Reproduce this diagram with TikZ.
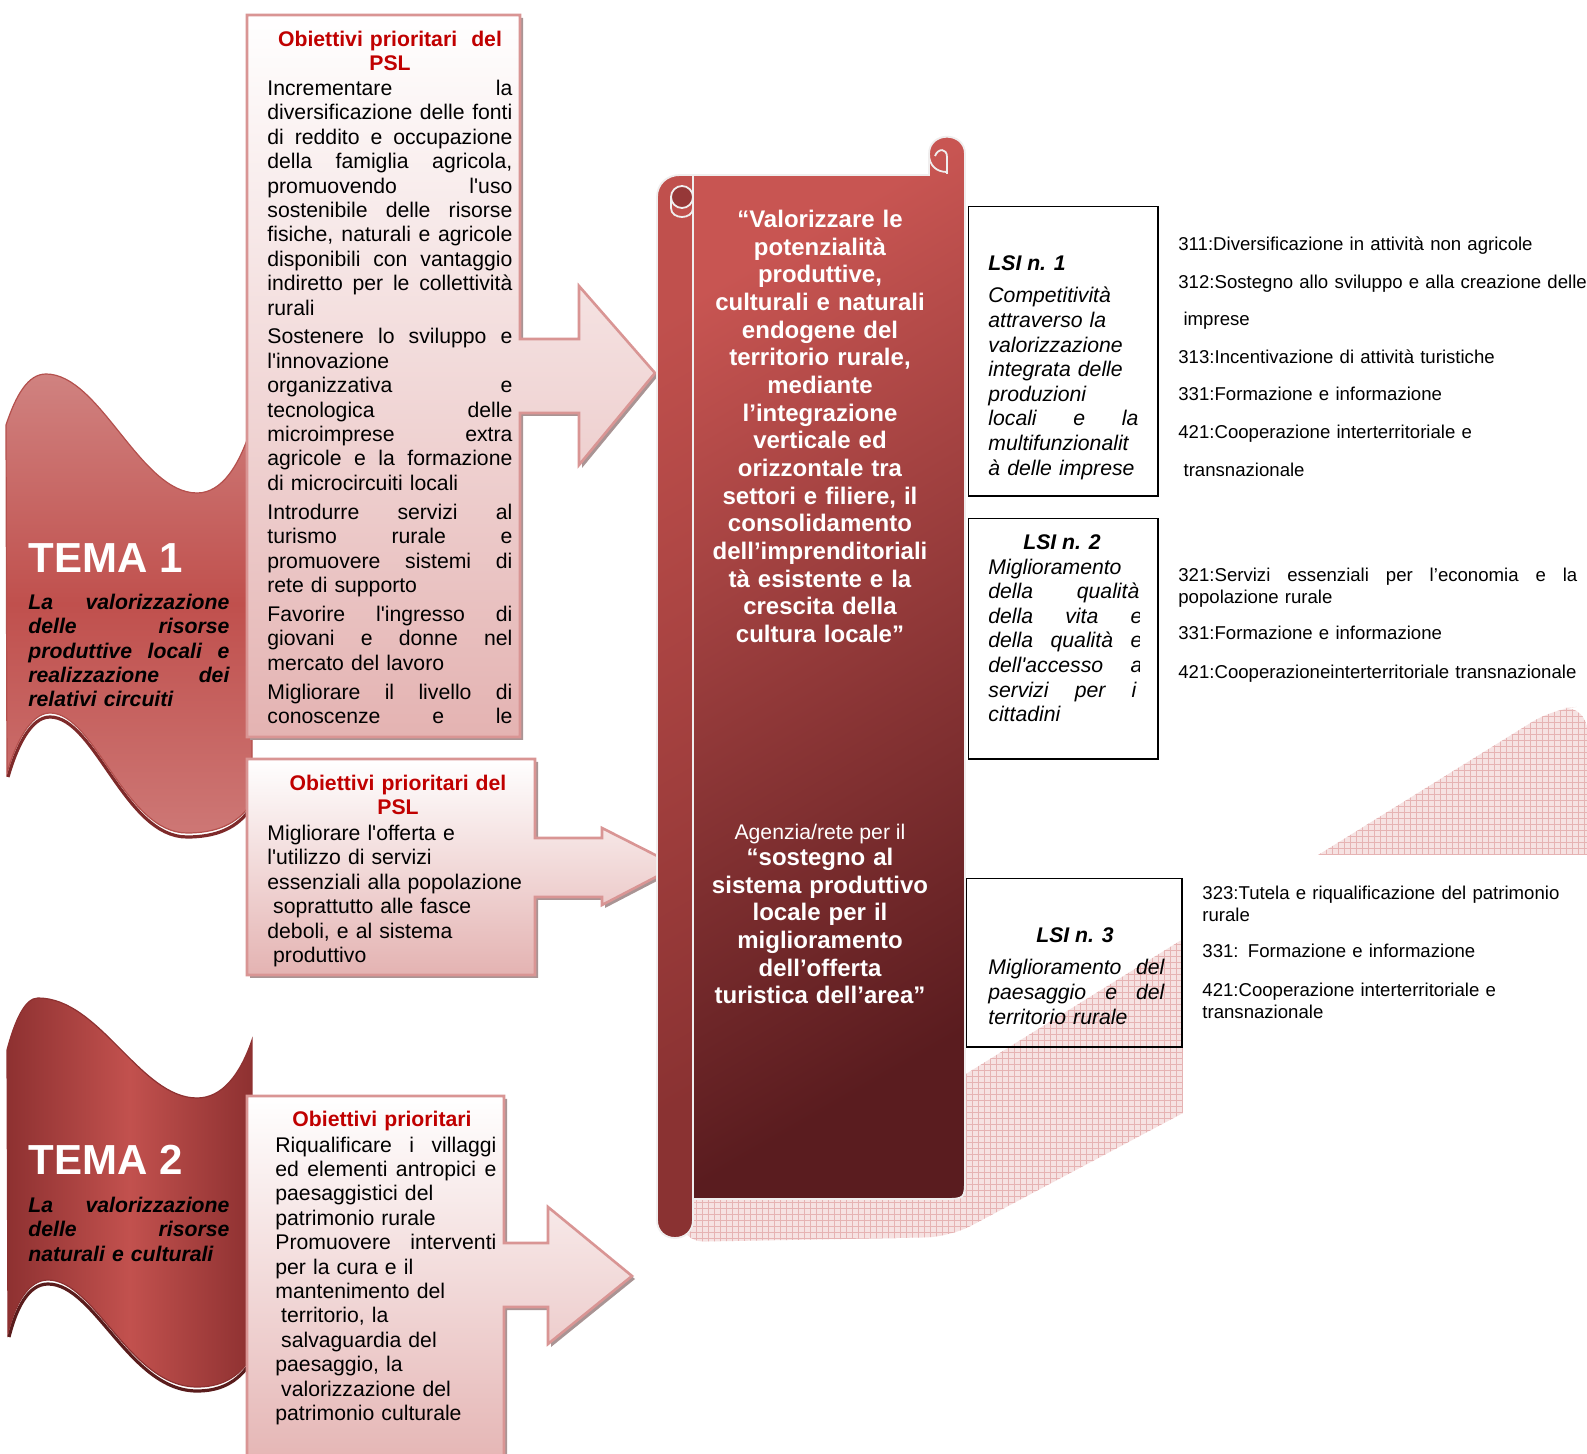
\documentclass[tikz,border=0pt]{standalone}
\usepackage{fontspec}
\setmainfont{Liberation Sans}[Ligatures=TeXOff]
\usetikzlibrary{patterns}
\definecolor{redtitle}{HTML}{C00000}
\definecolor{boxborder}{HTML}{D99594}
\definecolor{boxbottom}{HTML}{E4B3B2}
\definecolor{boxshadow}{HTML}{A99494}
\definecolor{bandbg}{HTML}{F6E2E2}
\definecolor{bandgrid}{HTML}{E6B3B3}
\definecolor{temaAtop}{HTML}{D08280}
\definecolor{temaAmid}{HTML}{C0504D}
\definecolor{temaAbot}{HTML}{CD7775}
\definecolor{temaAedge}{HTML}{B4504D}
\definecolor{temaAdark}{HTML}{7E2A2A}
\definecolor{temaBside}{HTML}{8E3131}
\definecolor{temaBmid}{HTML}{C2514E}
\definecolor{temaBdark}{HTML}{5A1C1C}
\definecolor{scrollA}{HTML}{C85552}
\definecolor{scrollB}{HTML}{5A1C1F}
\definecolor{poleA}{HTML}{C0504D}
\definecolor{poleB}{HTML}{8A3232}
\definecolor{scrollline}{HTML}{F0EEEE}
\definecolor{curlfill}{HTML}{963838}
\newcommand{\fsz}[2]{\fontsize{#1}{#2}\selectfont}
\newcommand{\jline}[2][0pt]{\leavevmode\hbox to \dimexpr\hsize-#1\relax{\spaceskip=\fontdimen2\font plus 1fil\relax #2}}
\def\boxApath{(247,15) -- (520,15) -- (520,339) -- (579,339) -- (579,286) -- (655,373) -- (579,465) -- (579,413) -- (520,413) -- (520,737) -- (247,737) -- cycle}
\def\boxBpath{(247,759) -- (535,759) -- (535,838) -- (602,838) -- (602,828) -- (677,866) -- (602,905) -- (602,897) -- (535,897) -- (535,975) -- (247,975) -- cycle}
\def\boxCpath{(247,1096) -- (504,1096) -- (504,1243) -- (548,1243) -- (548,1207) -- (632,1276) -- (548,1344) -- (548,1307) -- (504,1307) -- (504,1475) -- (247,1475) -- cycle}
\def\bandpath{(680,1242) -- (950,1237) -- (1587,898) -- (1587,706) -- (1553,709) -- (900,1115) -- (680,1115) -- cycle}
\hbadness=10000
\hfuzz=3pt
\begin{document}
\begin{tikzpicture}[x=0.5pt,y=-0.5pt,
  bodytext/.style={anchor=base west, inner sep=0pt, align=left, font=\fsz{10.6}{12.2}},
  titletext/.style={anchor=base, inner sep=0pt, align=center, text width=140pt, text=redtitle, font=\fsz{10.6}{12.2}\bfseries},
  temahead/.style={anchor=base west, inner sep=0pt, text=white, font=\fsz{21}{25}\bfseries},
  temasub/.style={anchor=base west, inner sep=0pt, align=left, text width=100.5pt, font=\fsz{10.6}{12.15}\bfseries\itshape},
  scrolltext/.style={anchor=base, inner sep=0pt, align=center, text width=150pt, text=white, font=\fsz{12}{13.83}\bfseries},
  lsititle/.style={inner sep=0pt, font=\fsz{10.6}{12.3}\bfseries\itshape},
  lsitext/.style={anchor=base west, inner sep=0pt, align=left, font=\fsz{10.6}{12.3}\itshape},
  meas/.style={anchor=base west, inner sep=0pt, align=left},
  boxshape/.style={top color=white, bottom color=boxbottom, draw=boxborder, line width=1.3pt, line join=miter},
  lsibox/.style={draw=black, line width=0.5pt},
  lsiedge/.style={draw=black, line width=1.1pt},
  scrolledge/.style={draw=scrollline, line width=0.9pt}
]
\useasboundingbox (0,0) rectangle (1587,1454);
\fill[white] (0,0) rectangle (1587,1454);

% decorative grid band
\path[fill=bandbg, rounded corners=12pt] \bandpath;
\path[pattern=grid, pattern color=bandgrid, rounded corners=12pt] \bandpath;
\fill[white] (1183,855) rectangle (1590,1460);

% TEMA 1 wave
\draw[temaAdark, line width=1.6pt] (8,777) .. controls (16,749) and (30,717) .. (50,717) .. controls (95,717) and (125,837) .. (187,837) .. controls (215,837) and (238,829) .. (252,806);
\shadedraw[top color=temaAtop, bottom color=temaAbot, middle color=temaAmid, draw=temaAedge, line width=0.6pt]
  (6,425) .. controls (16,395) and (28,374) .. (46,374)
  .. controls (100,374) and (140,493) .. (197,493)
  .. controls (222,493) and (240,465) .. (252,425)
  -- (252,802)
  .. controls (238,825) and (215,833) .. (187,833)
  .. controls (125,833) and (95,713) .. (50,713)
  .. controls (30,713) and (15,745) .. (7,773) -- cycle;

% TEMA 2 wave
\draw[temaBdark, line width=1.6pt] (9,1337) .. controls (16,1309) and (28,1284) .. (48,1284) .. controls (95,1284) and (130,1391) .. (197,1391) .. controls (218,1391) and (238,1384) .. (252,1360);
\shadedraw[left color=temaBside, right color=temaBside, middle color=temaBmid, draw=temaBside, line width=0.6pt]
  (7,1050) .. controls (15,1020) and (25,998) .. (38,998)
  .. controls (100,998) and (140,1098) .. (197,1098)
  .. controls (222,1098) and (240,1075) .. (252,1040)
  -- (252,1356)
  .. controls (238,1380) and (218,1387) .. (197,1387)
  .. controls (130,1387) and (95,1280) .. (48,1280)
  .. controls (28,1280) and (15,1305) .. (8,1333) -- cycle;

% objective boxes with arrows
\fill[boxshadow, shift={(3,3)}] \boxApath;
\fill[boxshadow, shift={(3,3)}] \boxBpath;
\fill[boxshadow, shift={(3,3)}] \boxCpath;
\shadedraw[boxshape] \boxApath;
\shadedraw[boxshape] \boxBpath;
\shadedraw[boxshape] \boxCpath;

% scroll
\shadedraw[top color=scrollA, bottom color=scrollB, shading angle=30, scrolledge]
  (693,175) -- (929,175) -- (929,154) .. controls (929,131) and (965,131) .. (965,154)
  -- (965,1177) .. controls (965,1199) .. (943,1199) -- (693,1199) -- cycle;
\draw[scrolledge] (947,174) -- (947,157) .. controls (947,148) and (938,148) .. (935,156);
\draw[scrolledge] (929,154) .. controls (929,166) and (937,172) .. (947,172);
\shadedraw[top color=poleA, bottom color=poleB, shading angle=30, scrolledge]
  (657,1220) -- (657,197) .. controls (657,184) and (667,175) .. (680,175) -- (693,175)
  -- (693,1220) .. controls (693,1244) and (657,1244) .. (657,1220) -- cycle;
\draw[scrolledge, line width=1.3pt] (693,195) -- (693,1222);
\filldraw[fill=curlfill, scrolledge] (682,197) circle (11);
\draw[scrolledge] (671,197) -- (671,208) .. controls (671,220) and (693,220) .. (693,208);

% LSI boxes
\draw[lsibox] (968,207) rectangle (1158,496);
\draw[lsiedge] (1158,207) -- (1158,496) -- (968,496);
\draw[lsibox] (968,519) rectangle (1158,759);
\draw[lsiedge] (1158,519) -- (1158,759) -- (968,759);
\draw[lsibox] (966,879) rectangle (1182,1047);
\draw[lsiedge] (1182,879) -- (1182,1047) -- (966,1047);

\begin{scope}[shift={(0,2.5)}]
% box 1 texts
\node[titletext] (t1) at (390,44) {Obiettivi prioritari\ \ del\\PSL};
\node[bodytext, text width=122.5pt] (b1) at (267,93) {%
\jline{Incrementare la}\\
\jline{diversificazione delle fonti}\\
\jline{di reddito e occupazione}\\
\jline{della famiglia agricola,}\\
\jline{promuovendo l'uso}\\
\jline{sostenibile delle risorse}\\
\jline{fisiche, naturali e agricole}\\
\jline{disponibili con vantaggio}\\
\jline{indiretto per le collettività}\\
rurali\\[2.25pt]
\jline{Sostenere lo sviluppo e}\\
l'innovazione\\
\jline{organizzativa e}\\
\jline{tecnologica delle}\\
\jline{microimprese extra}\\
\jline{agricole e la formazione}\\
di microcircuiti locali\\[2.25pt]
\jline{Introdurre servizi al}\\
\jline{turismo rurale e}\\
\jline{promuovere sistemi di}\\
rete di supporto\\[2.25pt]
\jline{Favorire l'ingresso di}\\
\jline{giovani e donne nel}\\
mercato del lavoro\\[2.25pt]
\jline{Migliorare il livello di}\\
\jline{conoscenze e le}};

% box 2 texts
\node[titletext] (t2) at (398,788) {Obiettivi prioritari del\\PSL};
\node[bodytext, text width=132pt] (b2) at (267,838) {%
Migliorare l'offerta e\\
l'utilizzo di servizi\\
essenziali alla popolazione\\
\hspace*{2.9pt}soprattutto alle fasce\\
deboli, e al sistema\\
\hspace*{2.9pt}produttivo};

% box 3 texts
\node[titletext] (t3) at (382,1124) {Obiettivi prioritari};
\node[bodytext, text width=110.5pt] (b3) at (275,1149.6) {%
\jline{Riqualificare i villaggi}\\
\jline{ed elementi antropici e}\\
paesaggistici del\\
patrimonio rurale\\
\jline{Promuovere interventi}\\
per la cura e il\\
mantenimento del\\
\hspace*{2.9pt}territorio, la\\
\hspace*{2.9pt}salvaguardia del\\
paesaggio, la\\
\hspace*{2.9pt}valorizzazione del\\
patrimonio culturale};

% TEMA texts
\node[temahead] (tema1) at (28,570) {TEMA 1};
\node[temasub] (tema1sub) at (28,607) {%
\jline{La valorizzazione}\\
\jline{delle risorse}\\
\jline{produttive locali e}\\
\jline{realizzazione dei}\\
relativi circuiti};
\node[temahead] (tema2) at (28,1172) {TEMA 2};
\node[temasub] (tema2sub) at (28,1210) {%
\jline{La valorizzazione}\\
\jline{delle risorse}\\
naturali e culturali};

% scroll texts
\node[scrolltext] (s1) at (820,225) {“Valorizzare le\\potenzialità\\produttive,\\culturali e naturali\\endogene del\\territorio rurale,\\mediante\\l’integrazione\\verticale ed\\orizzontale tra\\settori e filiere, il\\consolidamento\\dell’imprenditoriali\\tà esistente e la\\crescita della\\cultura locale”};
\node[anchor=base, inner sep=0pt, text=white, font=\fsz{10.6}{12.2}] (s2a) at (820,837) {Agenzia/rete per il};
\node[scrolltext] (s2b) at (820,863) {“sostegno al\\sistema produttivo\\locale per il\\miglioramento\\dell’offerta\\turistica dell’area”};

% LSI texts
\node[lsititle, anchor=base west] (l1t) at (988,268) {LSI n. 1};
\node[lsitext, text width=75pt] (l1) at (988,300.5) {%
Competitività\\
attraverso la\\
valorizzazione\\
integrata delle\\
produzioni\\
\jline{locali e la}\\
multifunzionalit\\
à delle imprese};
\node[lsititle, anchor=base] (l2t) at (1062,547.5) {LSI n. 2};
\begin{scope}
\clip (968,519) rectangle (1139.5,759);
\node[lsitext, text width=77pt] (l2) at (988,571.7) {%
Miglioramento\\
\jline[1.5pt]{della qualità}\\
\jline{della vita e}\\
\jline{della qualità e}\\
\jline{dell'accesso a}\\
\jline[3pt]{servizi per i}\\
cittadini};
\end{scope}
\node[lsititle, anchor=base] (l3t) at (1075,940) {LSI n. 3};
\node[lsitext, text width=88pt] (l3) at (988,972.5) {%
\jline{Miglioramento del}\\
\jline{paesaggio e del}\\
territorio rurale};

% measures
\node[meas, text width=205pt, font=\fsz{9.3}{18.8}] (m1) at (1178,248) {%
311:Diversificazione in attività non agricole\\
312:Sostegno allo sviluppo e alla creazione delle\\
\hspace*{2.6pt}imprese\\
313:Incentivazione di attività turistiche\\
331:Formazione e informazione\\
421:Cooperazione interterritoriale e\\
\hspace*{2.6pt}transnazionale};
\node[meas, text width=199.5pt, font=\fsz{9.3}{11}] (m2) at (1178,579) {%
\jline{321:Servizi essenziali per l’economia e la}\\
popolazione rurale\\[7.25pt]
331:Formazione e informazione\\[8.25pt]
421:Cooperazioneinterterritoriale transnazionale};
\node[meas, text width=185pt, font=\fsz{9.3}{11.2}] (m3) at (1202,896.6) {%
323:Tutela e riqualificazione del patrimonio\\
rurale\\[6.8pt]
331: Formazione e informazione\\[8.1pt]
421:Cooperazione interterritoriale e\\
transnazionale};
\end{scope}
\end{tikzpicture}
\end{document}
